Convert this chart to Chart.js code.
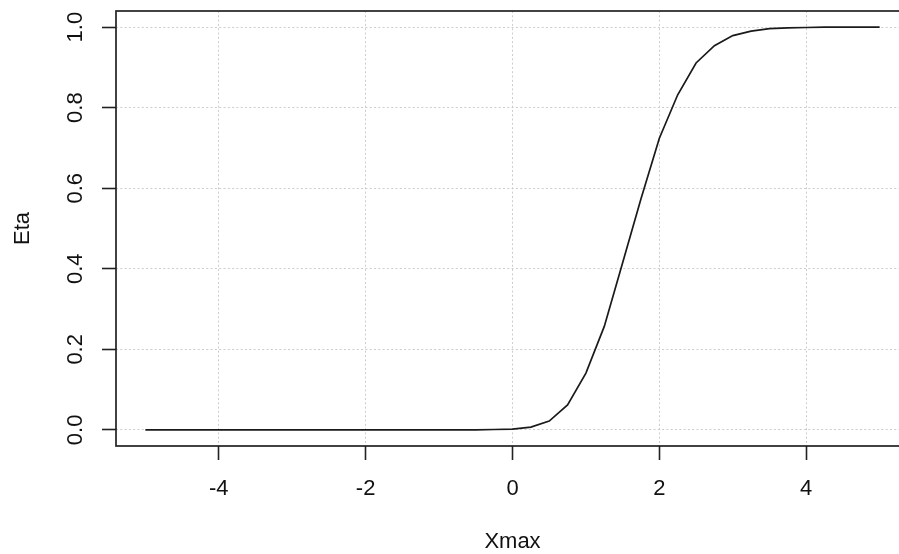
<!DOCTYPE html>
<html>
<head>
<meta charset="utf-8">
<script src="https://cdn.jsdelivr.net/npm/chart.js@4.4.0/dist/chart.umd.min.js"></script>
<style>
  html, body { margin: 0; padding: 0; background: #ffffff; overflow: hidden; }
  canvas { display: block; }
</style>
</head>
<body>
<canvas id="c" width="920" height="554"></canvas>
<script>
// ---- data ----
const xmaxValues = [-5, -4.75, -4.5, -4.25, -4, -3.75, -3.5, -3.25, -3, -2.75, -2.5, -2.25, -2, -1.75, -1.5, -1.25, -1, -0.75, -0.5, -0.25,
  0, 0.25, 0.5, 0.75, 1, 1.25, 1.5, 1.75, 2, 2.25, 2.5, 2.75, 3, 3.25, 3.5, 3.75, 4, 4.25, 4.5, 4.75, 5];
const etaValues = [0, 0, 0, 0, 0, 0, 0, 0, 0, 0, 0, 0, 0, 0, 0, 0, 0, 0, 0, 0.001,
  0.002, 0.007, 0.022, 0.062, 0.141, 0.257, 0.415, 0.574, 0.724, 0.832, 0.911, 0.954, 0.979, 0.990, 0.996, 0.998, 0.999, 1.0, 1.0, 1.0, 1.0];
const xTickValues = [-4, -2, 0, 2, 4];
const yTickValues = [0, 0.2, 0.4, 0.6, 0.8, 1.0];
const xTitle = 'Xmax';
const yTitle = 'Eta';

const FONT = '22px "Liberation Sans", Arial, Helvetica, sans-serif';
const INK = '#222222';

const points = xmaxValues.map((x, i) => ({ x: x, y: etaValues[i] }));

const rStylePlugin = {
  id: 'rStyle',
  afterDraw(chart) {
    const ctx = chart.ctx;
    const a = chart.chartArea;
    const xs = chart.scales.x, ys = chart.scales.y;
    ctx.save();
    // box
    ctx.strokeStyle = INK;
    ctx.lineWidth = 1.7;
    ctx.setLineDash([]);
    ctx.strokeRect(a.left, a.top, a.right - a.left, a.bottom - a.top);
    // x tick labels
    ctx.fillStyle = '#111111';
    ctx.font = FONT;
    ctx.textAlign = 'center';
    ctx.textBaseline = 'middle';
    xTickValues.forEach(v => {
      ctx.fillText(String(v), xs.getPixelForValue(v), 489);
    });
    // x title
    ctx.fillText(xTitle, (a.left + a.right - 1) / 2 + 0.5, 542);
    // y tick labels (rotated, R style)
    yTickValues.forEach(v => {
      const py = ys.getPixelForValue(v);
      ctx.save();
      ctx.translate(76, py);
      ctx.rotate(-Math.PI / 2);
      ctx.fillText(v.toFixed(1), 0, 0);
      ctx.restore();
    });
    // y title
    ctx.save();
    ctx.translate(23, (a.top + a.bottom) / 2);
    ctx.rotate(-Math.PI / 2);
    ctx.fillText(yTitle, 0, 0);
    ctx.restore();
    ctx.restore();
  }
};

const gridOpts = {
  color: '#cccccc',
  lineWidth: 1,
  drawTicks: true,
  tickLength: 14,
  tickColor: INK,
  tickWidth: 1.6,
  tickBorderDash: []
};

new Chart(document.getElementById('c'), {
  type: 'line',
  data: {
    datasets: [{
      data: points,
      borderColor: '#1a1a1a',
      borderWidth: 1.7,
      pointRadius: 0,
      fill: false,
      tension: 0
    }]
  },
  options: {
    responsive: false,
    animation: false,
    devicePixelRatio: 1,
    layout: { padding: { left: 102, top: 11, right: 11, bottom: 94 } },
    plugins: { legend: { display: false }, tooltip: { enabled: false } },
    scales: {
      x: {
        type: 'linear',
        min: -5.4,
        max: 5.4,
        afterBuildTicks(scale) { scale.ticks = xTickValues.map(v => ({ value: v })); },
        ticks: { display: false },
        border: { display: false, dash: [2, 2.3] },
        grid: gridOpts
      },
      y: {
        type: 'linear',
        min: -0.04,
        max: 1.04,
        afterBuildTicks(scale) { scale.ticks = yTickValues.map(v => ({ value: v })); },
        ticks: { display: false },
        border: { display: false, dash: [2, 2.3] },
        grid: gridOpts
      }
    }
  },
  plugins: [rStylePlugin]
});
</script>
</body>
</html>
